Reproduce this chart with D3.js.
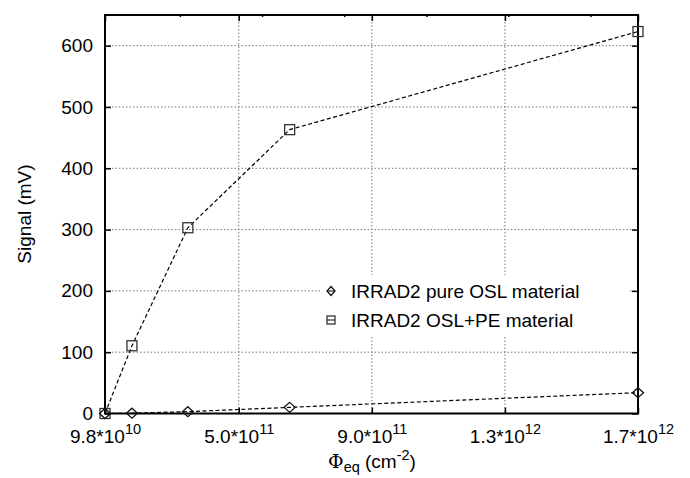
<!DOCTYPE html>
<html><head><meta charset="utf-8">
<script src="https://cdn.jsdelivr.net/npm/d3@7"></script>
<style>
html,body{margin:0;padding:0;background:#fff;}
svg{display:block;font-family:"Liberation Sans",Arial,Helvetica,sans-serif;}
</style></head>
<body><svg id="chart" width="690" height="478"></svg>
<script>
// ---- data ----
const fluence = [9.8e10, 1.79e11, 3.47e11, 6.53e11, 1.7e12];
const pureOSL = [0, 0.5, 3, 10, 34];
const oslPE = [0, 110.5, 303, 463, 623];
const seriesNames = ["IRRAD2 pure OSL material", "IRRAD2 OSL+PE material"];
const xTickValues = [9.8e10, 5.0e11, 9.0e11, 1.3e12, 1.7e12];
const xTickMantissa = ["9.8", "5.0", "9.0", "1.3", "1.7"];
const xTickExponent = ["10", "11", "11", "12", "12"];
const yTickValues = [0, 100, 200, 300, 400, 500, 600];
const topTickValues = [3.23e11, 5.7e11, 8.17e11, 1.064e12, 1.31e12, 1.557e12];

const svg = d3.select("#chart");
const L = 105, R = 638, T = 15, B = 413.5;
const x = d3.scaleLinear().domain([9.8e10, 1.7e12]).range([L, R]);
const y = d3.scaleLinear().domain([0, 650]).range([B, T]);

// grid
const grid = svg.append("g").attr("stroke", "#777").attr("stroke-width", 1).attr("stroke-dasharray", "1.5,2");
grid.selectAll("line.gy").data(yTickValues.filter(v => v > 0)).enter().append("line")
  .attr("x1", L).attr("x2", R).attr("y1", d => y(d)).attr("y2", d => y(d));
grid.selectAll("line.gx").data(xTickValues.slice(1, -1)).enter().append("line")
  .attr("y1", T).attr("y2", B).attr("x1", d => x(d)).attr("x2", d => x(d));

// legend background (covers grid)
svg.append("rect").attr("x", 322).attr("y", 275).attr("width", 308).attr("height", 61).attr("fill", "#fff");

// axes
const fontSize = 19;
const gx = svg.append("g").attr("transform", `translate(0,${B})`)
  .call(d3.axisBottom(x).tickValues(xTickValues).tickSize(-6).tickPadding(10).tickFormat(""));
gx.select(".domain").remove();
gx.selectAll(".tick line").attr("stroke", "#000").attr("stroke-width", 1.5);
gx.selectAll(".tick").each(function(d, i) {
  const t = d3.select(this).append("text").attr("fill", "#000").attr("font-size", fontSize)
    .attr("text-anchor", "middle").attr("y", 29);
  t.append("tspan").text(xTickMantissa[i] + "*10");
  t.append("tspan").attr("font-size", 14.5).attr("dy", -9).text(xTickExponent[i]);
});

const gxt = svg.append("g").attr("transform", `translate(0,${T})`)
  .call(d3.axisTop(x).tickValues(xTickValues).tickSize(-6).tickFormat(""));
gxt.select(".domain").remove();
gxt.selectAll(".tick line").attr("stroke", "#000").attr("stroke-width", 1.5);
const gxt2 = svg.append("g").attr("transform", `translate(0,${T})`)
  .call(d3.axisTop(x).tickValues(topTickValues).tickSize(-2).tickFormat(""));
gxt2.select(".domain").remove();
gxt2.selectAll(".tick line").attr("stroke", "#000").attr("stroke-width", 1.5);

const gy = svg.append("g").attr("transform", `translate(${L},0)`)
  .call(d3.axisLeft(y).tickValues(yTickValues).tickSize(-6).tickPadding(12).tickFormat(d3.format("d")));
gy.select(".domain").remove();
gy.selectAll(".tick line").attr("stroke", "#000").attr("stroke-width", 1.5);
gy.selectAll(".tick text").attr("font-size", fontSize).attr("fill", "#000").attr("font-family", null);

const gyr = svg.append("g").attr("transform", `translate(${R},0)`)
  .call(d3.axisRight(y).tickValues(yTickValues).tickSize(-6).tickFormat(""));
gyr.select(".domain").remove();
gyr.selectAll(".tick line").attr("stroke", "#000").attr("stroke-width", 1.5);

// border
svg.append("rect").attr("x", L).attr("y", T).attr("width", R - L).attr("height", B - T)
  .attr("fill", "none").attr("stroke", "#000").attr("stroke-width", 2);

// series
const line = d3.line().x(d => x(d[0])).y(d => y(d[1]));
const dataA = fluence.map((f, i) => [f, pureOSL[i]]);
const dataB = fluence.map((f, i) => [f, oslPE[i]]);
[dataA, dataB].forEach(data => {
  svg.append("path").datum(data).attr("d", line).attr("fill", "none")
    .attr("stroke", "#000").attr("stroke-width", 1.2).attr("stroke-dasharray", "4,2.5");
});

function diamond(g, cx, cy, w, h) {
  g.append("path").attr("d", `M${cx},${cy - h / 2}L${cx + w / 2},${cy}L${cx},${cy + h / 2}L${cx - w / 2},${cy}Z`)
    .attr("fill", "none").attr("stroke", "#111").attr("stroke-width", 1.3);
}
function square(g, cx, cy, s) {
  g.append("rect").attr("x", cx - s / 2).attr("y", cy - s / 2).attr("width", s).attr("height", s)
    .attr("fill", "none").attr("stroke", "#333").attr("stroke-width", 1.3);
}
const marks = svg.append("g");
dataB.forEach(d => square(marks, x(d[0]), y(d[1]), 10));
dataA.forEach(d => diamond(marks, x(d[0]), y(d[1]), 11, 10));

// legend
const lg = svg.append("g");
const lx = 331, ly1 = 291, ly2 = 320;
lg.append("line").attr("x1", lx - 4).attr("x2", lx + 4).attr("y1", ly1).attr("y2", ly1).attr("stroke", "#000").attr("stroke-width", 1);
diamond(lg, lx, ly1, 8, 9);
lg.append("line").attr("x1", lx - 4).attr("x2", lx + 4).attr("y1", ly2).attr("y2", ly2).attr("stroke", "#000").attr("stroke-width", 1);
square(lg, lx, ly2, 8);
lg.append("text").attr("x", 351).attr("y", ly1 + 7).attr("font-size", fontSize).text(seriesNames[0]);
lg.append("text").attr("x", 351).attr("y", ly2 + 7).attr("font-size", fontSize).text(seriesNames[1]);

// axis titles
svg.append("text").attr("transform", "translate(31,214) rotate(-90)").attr("text-anchor", "middle")
  .attr("font-size", fontSize).text("Signal (mV)");
const xt = svg.append("text").attr("x", 372).attr("y", 468).attr("text-anchor", "middle").attr("font-size", fontSize);
xt.append("tspan").attr("font-family", "'DejaVu Serif',serif").text("Φ");
xt.append("tspan").attr("font-size", 14.5).attr("dy", 4).text("eq");
xt.append("tspan").attr("dy", -4).text(" (cm");
xt.append("tspan").attr("font-size", 14.5).attr("dy", -8).text("-2");
xt.append("tspan").attr("dy", 8).text(")");
</script></body></html>
